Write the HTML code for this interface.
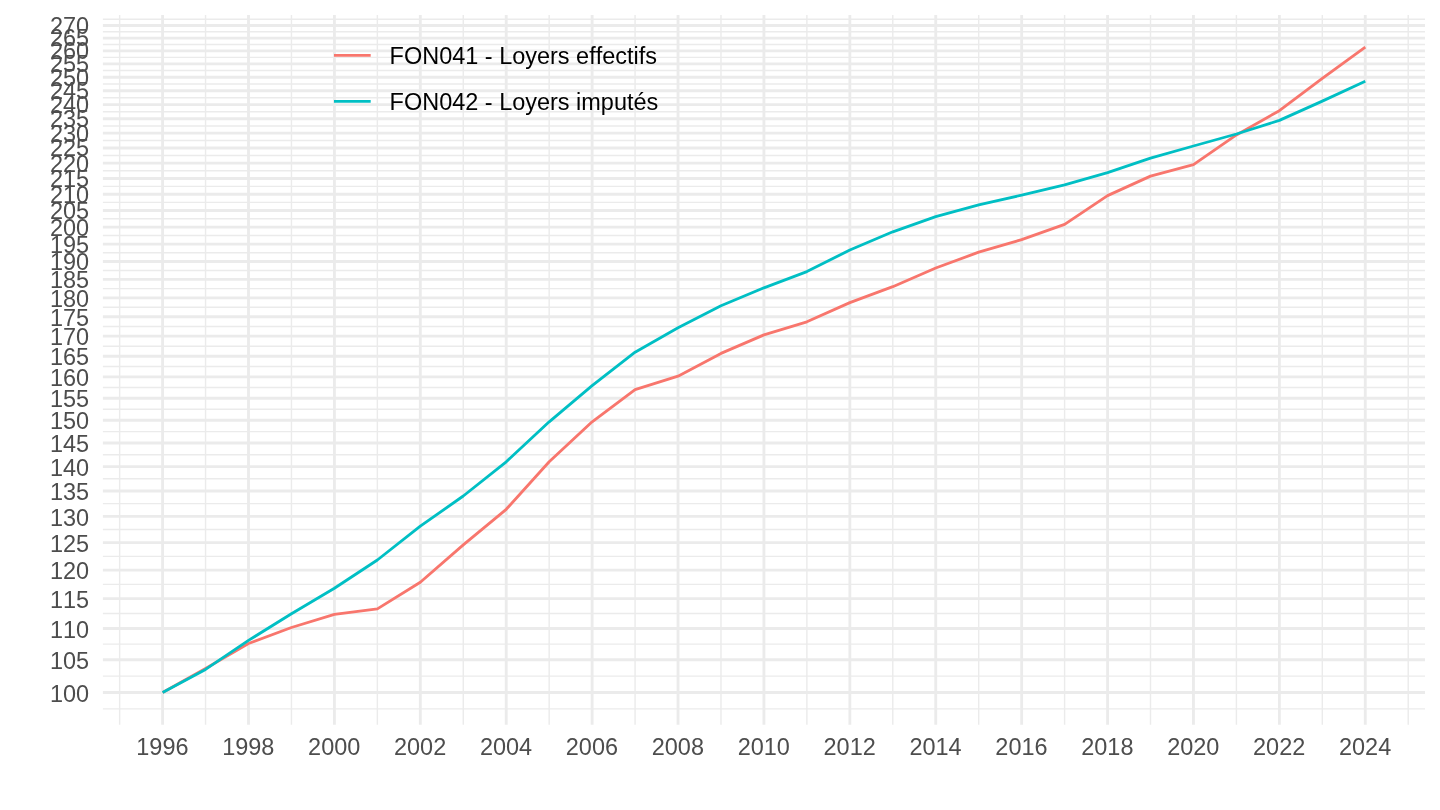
<!DOCTYPE html>
<html><head><meta charset="utf-8"><title>chart</title>
<style>
html,body{margin:0;padding:0;background:#fff;}
body{width:1440px;height:810px;overflow:hidden;font-family:"Liberation Sans",sans-serif;}
svg{display:block;will-change:transform;transform:translateZ(0);}
text{font-family:"Liberation Sans",sans-serif;font-kerning:none;}
</style></head><body>
<svg width="1440" height="810" viewBox="0 0 1440 810">
<rect width="1440" height="810" fill="#ffffff"/>

<g stroke="#EBEBEB" stroke-width="1.42" fill="none">
<path d="M102.90 708.88H1425.00"/>
<path d="M102.90 676.12H1425.00"/>
<path d="M102.90 644.12H1425.00"/>
<path d="M102.90 613.57H1425.00"/>
<path d="M102.90 584.36H1425.00"/>
<path d="M102.90 556.37H1425.00"/>
<path d="M102.90 529.49H1425.00"/>
<path d="M102.90 503.65H1425.00"/>
<path d="M102.90 478.77H1425.00"/>
<path d="M102.90 454.78H1425.00"/>
<path d="M102.90 431.61H1425.00"/>
<path d="M102.90 409.22H1425.00"/>
<path d="M102.90 387.55H1425.00"/>
<path d="M102.90 366.56H1425.00"/>
<path d="M102.90 346.21H1425.00"/>
<path d="M102.90 326.45H1425.00"/>
<path d="M102.90 307.26H1425.00"/>
<path d="M102.90 288.60H1425.00"/>
<path d="M102.90 270.45H1425.00"/>
<path d="M102.90 252.77H1425.00"/>
<path d="M102.90 235.55H1425.00"/>
<path d="M102.90 218.76H1425.00"/>
<path d="M102.90 202.38H1425.00"/>
<path d="M102.90 186.39H1425.00"/>
<path d="M102.90 170.77H1425.00"/>
<path d="M102.90 155.51H1425.00"/>
<path d="M102.90 140.58H1425.00"/>
<path d="M102.90 125.98H1425.00"/>
<path d="M102.90 111.69H1425.00"/>
<path d="M102.90 97.70H1425.00"/>
<path d="M102.90 83.99H1425.00"/>
<path d="M102.90 70.56H1425.00"/>
<path d="M102.90 57.39H1425.00"/>
<path d="M102.90 44.48H1425.00"/>
<path d="M102.90 31.81H1425.00"/>
<path d="M102.90 19.26H1425.00"/>
<path d="M119.65 15.00V724.80"/>
<path d="M205.55 15.00V724.80"/>
<path d="M291.46 15.00V724.80"/>
<path d="M377.37 15.00V724.80"/>
<path d="M463.27 15.00V724.80"/>
<path d="M549.18 15.00V724.80"/>
<path d="M635.08 15.00V724.80"/>
<path d="M720.99 15.00V724.80"/>
<path d="M806.90 15.00V724.80"/>
<path d="M892.80 15.00V724.80"/>
<path d="M978.71 15.00V724.80"/>
<path d="M1064.61 15.00V724.80"/>
<path d="M1150.52 15.00V724.80"/>
<path d="M1236.42 15.00V724.80"/>
<path d="M1322.33 15.00V724.80"/>
<path d="M1408.24 15.00V724.80"/>
</g>
<g stroke="#EBEBEB" stroke-width="2.84" fill="none">
<path d="M102.90 692.50H1425.00"/>
<path d="M102.90 659.74H1425.00"/>
<path d="M102.90 628.50H1425.00"/>
<path d="M102.90 598.65H1425.00"/>
<path d="M102.90 570.07H1425.00"/>
<path d="M102.90 542.66H1425.00"/>
<path d="M102.90 516.32H1425.00"/>
<path d="M102.90 490.98H1425.00"/>
<path d="M102.90 466.56H1425.00"/>
<path d="M102.90 443.00H1425.00"/>
<path d="M102.90 420.23H1425.00"/>
<path d="M102.90 398.21H1425.00"/>
<path d="M102.90 376.89H1425.00"/>
<path d="M102.90 356.23H1425.00"/>
<path d="M102.90 336.18H1425.00"/>
<path d="M102.90 316.72H1425.00"/>
<path d="M102.90 297.80H1425.00"/>
<path d="M102.90 279.40H1425.00"/>
<path d="M102.90 261.50H1425.00"/>
<path d="M102.90 244.05H1425.00"/>
<path d="M102.90 227.05H1425.00"/>
<path d="M102.90 210.47H1425.00"/>
<path d="M102.90 194.29H1425.00"/>
<path d="M102.90 178.49H1425.00"/>
<path d="M102.90 163.05H1425.00"/>
<path d="M102.90 147.96H1425.00"/>
<path d="M102.90 133.20H1425.00"/>
<path d="M102.90 118.76H1425.00"/>
<path d="M102.90 104.62H1425.00"/>
<path d="M102.90 90.78H1425.00"/>
<path d="M102.90 77.21H1425.00"/>
<path d="M102.90 63.91H1425.00"/>
<path d="M102.90 50.87H1425.00"/>
<path d="M102.90 38.08H1425.00"/>
<path d="M102.90 25.53H1425.00"/>
<path d="M162.60 15.00V724.80"/>
<path d="M248.51 15.00V724.80"/>
<path d="M334.41 15.00V724.80"/>
<path d="M420.32 15.00V724.80"/>
<path d="M506.22 15.00V724.80"/>
<path d="M592.13 15.00V724.80"/>
<path d="M678.04 15.00V724.80"/>
<path d="M763.94 15.00V724.80"/>
<path d="M849.85 15.00V724.80"/>
<path d="M935.75 15.00V724.80"/>
<path d="M1021.66 15.00V724.80"/>
<path d="M1107.57 15.00V724.80"/>
<path d="M1193.47 15.00V724.80"/>
<path d="M1279.38 15.00V724.80"/>
<path d="M1365.28 15.00V724.80"/>
</g>
<path d="M162.60 692.50 L205.55 668.50 L248.51 643.50 L291.46 627.50 L334.41 614.30 L377.37 608.90 L420.32 582.20 L463.27 544.90 L506.22 509.30 L549.18 461.70 L592.13 421.80 L635.08 389.60 L678.04 376.20 L720.99 353.40 L763.94 334.90 L806.90 321.80 L849.85 302.60 L892.80 286.70 L935.75 268.00 L978.71 252.20 L1021.66 239.60 L1064.61 224.40 L1107.57 195.60 L1150.52 176.10 L1193.47 164.70 L1236.42 134.90 L1279.38 110.70 L1322.33 78.40 L1365.28 47.20" stroke="#F8766D" stroke-width="2.84" fill="none" stroke-linejoin="round" stroke-linecap="butt"/>
<path d="M162.60 692.50 L205.55 669.40 L248.51 640.40 L291.46 613.70 L334.41 588.30 L377.37 560.00 L420.32 526.20 L463.27 496.00 L506.22 461.80 L549.18 421.80 L592.13 385.60 L635.08 352.20 L678.04 327.80 L720.99 305.80 L763.94 287.80 L806.90 271.60 L849.85 250.00 L892.80 231.80 L935.75 216.70 L978.71 204.90 L1021.66 195.10 L1064.61 184.90 L1107.57 172.70 L1150.52 158.10 L1193.47 146.00 L1236.42 134.00 L1279.38 120.40 L1322.33 101.10 L1365.28 81.20" stroke="#00BFC4" stroke-width="2.84" fill="none" stroke-linejoin="round" stroke-linecap="butt"/>
<path d="M334 55.3H370.7" stroke="#F8766D" stroke-width="2.84"/>
<path d="M334 101.4H370.7" stroke="#00BFC4" stroke-width="2.84"/>
<g fill="#4D4D4D" font-size="23.47px">
<text x="49.89" y="702.05">100</text>
<text x="49.89" y="669.22">105</text>
<text x="49.89" y="637.92">110</text>
<text x="49.89" y="608.01">115</text>
<text x="49.89" y="579.38">120</text>
<text x="49.89" y="551.91">125</text>
<text x="49.89" y="525.52">130</text>
<text x="49.89" y="500.13">135</text>
<text x="49.89" y="475.66">140</text>
<text x="49.89" y="452.05">145</text>
<text x="49.89" y="429.24">150</text>
<text x="49.89" y="407.17">155</text>
<text x="49.89" y="385.81">160</text>
<text x="49.89" y="365.11">165</text>
<text x="49.89" y="345.02">170</text>
<text x="49.89" y="325.52">175</text>
<text x="49.89" y="306.56">180</text>
<text x="49.89" y="288.13">185</text>
<text x="49.89" y="270.18">190</text>
<text x="49.89" y="252.71">195</text>
<text x="49.89" y="235.67">200</text>
<text x="49.89" y="219.06">205</text>
<text x="49.89" y="202.84">210</text>
<text x="49.89" y="187.01">215</text>
<text x="49.89" y="171.54">220</text>
<text x="49.89" y="156.42">225</text>
<text x="49.89" y="141.63">230</text>
<text x="49.89" y="127.16">235</text>
<text x="49.89" y="113.00">240</text>
<text x="49.89" y="99.12">245</text>
<text x="49.89" y="85.53">250</text>
<text x="49.89" y="72.21">255</text>
<text x="49.89" y="59.14">260</text>
<text x="49.89" y="46.32">265</text>
<text x="49.89" y="33.75">270</text>
<text x="136.29" y="755.00">1996</text>
<text x="222.20" y="755.00">1998</text>
<text x="308.11" y="755.00">2000</text>
<text x="394.01" y="755.00">2002</text>
<text x="479.92" y="755.00">2004</text>
<text x="565.82" y="755.00">2006</text>
<text x="651.73" y="755.00">2008</text>
<text x="737.64" y="755.00">2010</text>
<text x="823.54" y="755.00">2012</text>
<text x="909.45" y="755.00">2014</text>
<text x="995.35" y="755.00">2016</text>
<text x="1081.26" y="755.00">2018</text>
<text x="1167.17" y="755.00">2020</text>
<text x="1253.07" y="755.00">2022</text>
<text x="1338.98" y="755.00">2024</text>
</g>
<g fill="#000000" font-size="23.47px">
<text x="389.60" y="63.70">FON041 - Loyers effectifs</text>
<text x="389.60" y="109.80">FON042 - Loyers imputés</text>
</g>
</svg></body></html>
